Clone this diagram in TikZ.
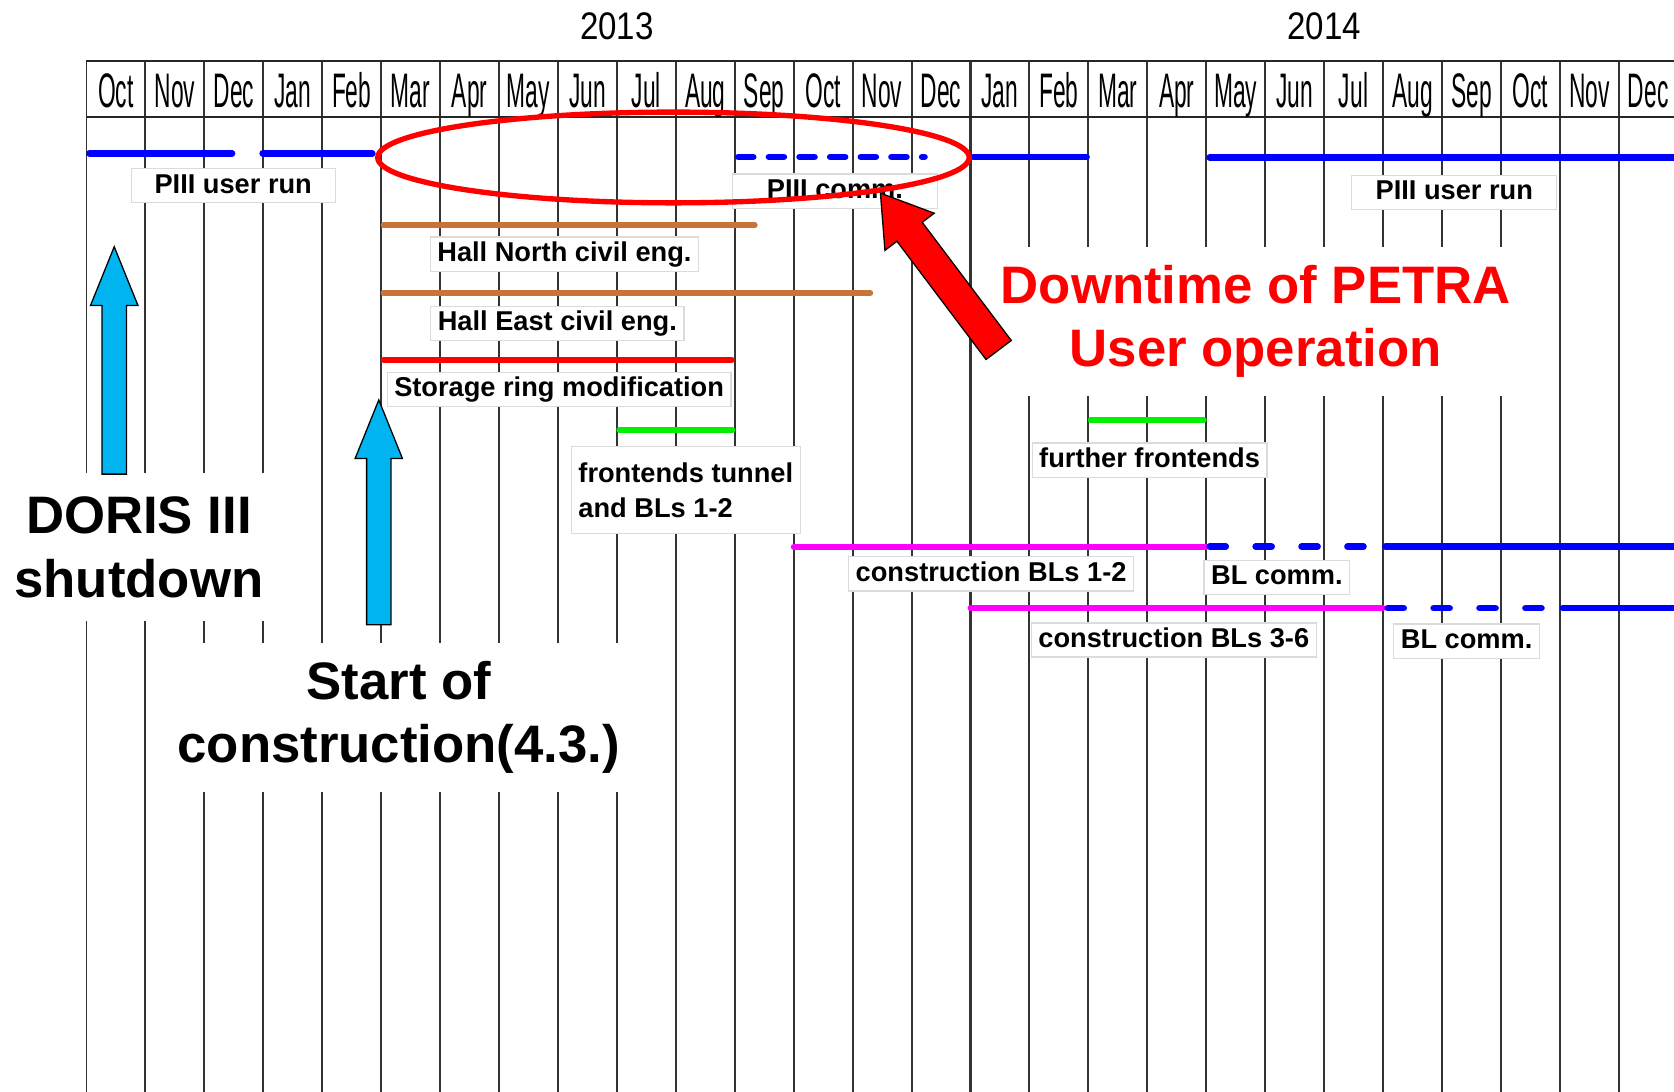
\documentclass[tikz,border=0pt]{standalone}
\usepackage{fontspec}
\setmainfont{Liberation Sans}
\usetikzlibrary{shapes.arrows}
\definecolor{runblue}{RGB}{0,0,255}
\definecolor{civil}{RGB}{200,115,55}
\definecolor{ringred}{RGB}{255,0,0}
\definecolor{frontgreen}{RGB}{0,240,0}
\definecolor{blmag}{RGB}{255,0,255}
\definecolor{marker}{RGB}{0,180,240}
\tikzset{
  monthline/.style = {draw=black!80, line width=0.9pt},
  headline/.style  = {draw=black!85, line width=1.1pt},
  mon/.style       = {anchor=base, inner sep=0pt, xscale=0.47,
                      font=\fontsize{22.7pt}{24pt}\selectfont},
  yr/.style        = {anchor=base, inner sep=0pt, xscale=0.86,
                      font=\fontsize{18pt}{20pt}\selectfont},
  userrun/.style   = {runblue, line width=3.1pt, line cap=round},
  runplan/.style   = {dash pattern=on 7pt off 7.35pt},
  blplan/.style    = {dash pattern=on 7.5pt off 14pt},
  phase/.style     = {line width=2.7pt, line cap=round},
  lbl/.style       = {draw=black!14, fill=white, line width=0.6pt,
                      inner ysep=2pt, inner xsep=3.3pt,
                      font=\bfseries\fontsize{12.75pt}{16.5pt}\selectfont},
  tag/.style       = {lbl, text height=9.4pt, text depth=2.6pt},
  big/.style       = {fill=white, align=center, inner sep=0pt,
                      font=\bfseries\fontsize{24.7pt}{29.75pt}\selectfont},
  markarrow/.style = {single arrow, draw=black, fill=marker, line width=0.6pt,
                      rotate=90, anchor=tip, inner xsep=0pt, inner ysep=5.4pt,
                      single arrow head extend=5.4pt, single arrow tip angle=44},
  pointer/.style   = {single arrow, draw=black, fill=ringred, line width=0.6pt,
                      rotate=127, anchor=tip, inner xsep=0pt, inner ysep=7.1pt,
                      single arrow head extend=7.05pt, single arrow tip angle=65,
                      minimum height=92pt},
  window/.style    = {draw=ringred, line width=2.5pt}
}
\begin{document}
\begin{tikzpicture}[x=27.6pt, y=-0.5pt]
  \clip (-1.4674,0) rectangle (26.938,1022);
  \fill[white] (-1.4674,0) rectangle (26.938,1022);

  % month grid
  \foreach \i in {0,...,27}
    \draw[monthline] (\i,57) -- (\i,1030);
  \draw[monthline, line width=1.7pt] (15,57) -- (15,1030);
  \draw[headline] (0,57) -- (28,57) (0,109.5) -- (28,109.5);
  \foreach \m [count=\i from 0] in {Oct,Nov,Dec,Jan,Feb,Mar,Apr,May,Jun,Jul,Aug,Sep,Oct,Nov,Dec,Jan,Feb,Mar,Apr,May,Jun,Jul,Aug,Sep,Oct,Nov,Dec}
    \node[mon] (m\i) at (\i+0.5,101) {\m};
  \node[yr] (y13) at (9,36.8) {2013};
  \node[yr] (y14) at (21,36.8) {2014};

  % PETRA III user runs
  \draw[userrun] (0.05,143.6) -- (2.47,143.6);
  \draw[userrun] (2.99,143.6) -- (4.85,143.6);
  \draw[userrun, runplan] (11.06,147) -- (14.22,147);
  \draw[userrun] (15.05,147) -- (16.97,147);
  \draw[userrun] (19.06,147.5) -- (27.5,147.5);

  % construction phases
  \draw[phase, civil] (5.04,211) -- (11.34,211);
  \draw[phase, civil] (5.04,274.6) -- (13.3,274.6);
  \draw[phase, ringred] (5.04,337) -- (10.95,337);
  \draw[phase, frontgreen] (9.04,403) -- (10.96,403);
  \draw[phase, frontgreen] (17.04,393.5) -- (18.96,393.5);
  \draw[phase, blmag] (12.0,512) -- (19.0,512);
  \draw[userrun, blplan] (19.06,512) -- (21.68,512);
  \draw[userrun] (22.04,512) -- (27.5,512);
  \draw[phase, blmag] (15.0,569.6) -- (22.0,569.6);
  \draw[userrun, blplan] (22.08,569.6) -- (24.69,569.6);
  \draw[userrun] (25.05,569.6) -- (27.5,569.6);

  \node[tag, minimum width=95.5pt] (run12) at (2.49,174) {PIII user run};
  \node[tag, minimum width=96pt] (comm) at (12.70,179) {PIII comm.};
  \node[tag, minimum width=96pt] (run14) at (23.21,180.5) {PIII user run};
  \node[tag] (hallN) at (8.11,238) {Hall North civil eng.};
  \node[tag] (hallE) at (7.99,303) {Hall East civil eng.};
  \node[tag] (ring) at (8.02,365) {Storage ring modification};
  \node[lbl, align=left, minimum width=104pt, minimum height=41pt]
    (fe) at (10.17,459) {frontends tunnel\\and BLs 1-2};
  \node[tag] (morefe) at (18.04,431) {further frontends};
  \node[tag] (bl12) at (15.35,537.5) {construction BLs 1-2};
  \node[tag, minimum width=66pt] (comm12) at (20.20,541) {BL comm.};
  \node[tag] (bl36) at (18.45,599.5) {construction BLs 3-6};
  \node[tag, minimum width=66pt] (comm36) at (23.42,600.5) {BL comm.};

  % annotations
  \node[big, minimum width=125pt, minimum height=69.5pt] (doris)
    at (0.89,512.5) {DORIS III\\shutdown};
  \node[big, minimum width=212.5pt, minimum height=70pt] (start)
    at (5.3,672) {Start of\\construction(4.3.)};
  \node[big, text=ringred, minimum width=250pt, minimum height=70pt] (down)
    at (19.84,301) {Downtime of PETRA\\User operation};

  \draw[window] (9.96,147.5) ellipse [x radius=138.5pt, y radius=21.25pt];
  \node[markarrow, minimum height=106.5pt] (dorisarrow) at (0.471,229.5) {};
  \node[markarrow, minimum height=105.3pt] (startarrow) at (4.96,373) {};
  \node[pointer] (downarrow) at (13.46,180) {};
\end{tikzpicture}
\end{document}
